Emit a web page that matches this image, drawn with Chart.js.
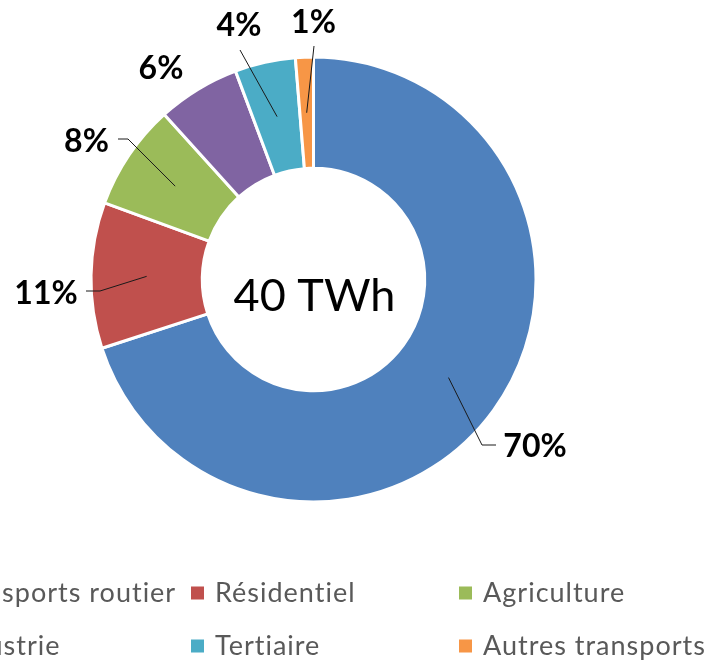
<!DOCTYPE html>
<html>
<head>
<meta charset="utf-8">
<script src="https://cdn.jsdelivr.net/npm/chart.js@4"></script>
<style>
  html, body { margin: 0; padding: 0; background: #fff; }
  #wrap { position: relative; width: 708px; height: 662px; }
</style>
</head>
<body>
<div id="wrap"><canvas id="chart"></canvas></div>
<script>
// data (share of 40 TWh, in %)
const categories = ['Transports routier', 'Résidentiel', 'Agriculture', 'Industrie', 'Tertiaire', 'Autres transports'];
const shares = [70, 10.6, 7.7, 6, 4.4, 1.3];
const colors = ['#4F81BD', '#C0504D', '#9BBB59', '#8064A2', '#4BACC6', '#F79646'];
const centerLabel = '40 TWh';

// label layout, relative to the doughnut centre: text anchor + leader bend/end points
const labelPos = [[221.5, 177.5], [-267.5, 24.5], [-227, -127.5], [-152.5, -200.5], [-74.5, -243.5], [0, -246.5]];
const leaders = [
  [[168.5, 165.5], [182.5, 165.5]],
  [[-213.5, 11.5], [-227.5, 11.5]],
  [[-185.5, -140.5], [-195.5, -140.5]],
  null,
  [[-73.5, -229.5]],
  [[0.5, -233.5]]
];

const labelsPlugin = {
  id: 'labels',
  afterDraw(chart) {
    const ctx = chart.ctx;
    const meta = chart.getDatasetMeta(0);
    const cx = meta.data[0].x;
    const cy = meta.data[0].y;
    ctx.save();

    // leader lines from slice centroids
    ctx.strokeStyle = '#1a1a1a';
    ctx.lineWidth = 1;
    meta.data.forEach((arc, i) => {
      if (!leaders[i]) return;
      const p = arc.getCenterPoint();
      ctx.beginPath();
      ctx.moveTo(p.x, p.y);
      leaders[i].forEach(pt => ctx.lineTo(cx + pt[0], cy + pt[1]));
      ctx.stroke();
    });

    // percentages
    ctx.fillStyle = '#000';
    ctx.font = 'bold 32px Lato';
    ctx.textAlign = 'center';
    ctx.textBaseline = 'alphabetic';
    const total = shares.reduce((a, b) => a + b, 0);
    shares.forEach((v, i) => {
      const txt = Math.round(v / total * 100) + '%';
      ctx.fillText(txt, cx + labelPos[i][0], cy + labelPos[i][1]);
    });

    // centre text
    ctx.font = '45px Lato';
    ctx.fillText(centerLabel, cx + 1, cy + 31.5);

    // legend, 3 columns (left column runs off the edge as in the source)
    ctx.font = '27px Lato';
    ctx.textAlign = 'left';
    ctx.textRendering = 'optimizeSpeed';
    ctx.letterSpacing = '1px';
    categories.forEach((name, i) => {
      const col = i % 3;
      const row = Math.floor(i / 3);
      const x = -77 + col * 268;
      const y = 593 + row * 53;
      ctx.fillStyle = colors[i];
      ctx.fillRect(x, y - 6.5, 13, 13);
      ctx.fillStyle = '#595959';
      ctx.fillText(name, x + 24, y + 9);
    });
    ctx.restore();
  }
};

const data = {
  labels: categories,
  datasets: [{
    data: shares,
    backgroundColor: colors,
    borderColor: '#ffffff',
    borderWidth: 3
  }]
};

const config = {
  type: 'doughnut',
  data: data,
  options: {
    responsive: true,
    maintainAspectRatio: false,
    animation: false,
    cutout: '50%',
    layout: { padding: { left: 89.5, top: 55.5, right: 170.5, bottom: 158.5 } },
    plugins: {
      legend: { display: false },
      tooltip: { enabled: false }
    }
  },
  plugins: [labelsPlugin]
};

const chart = new Chart(document.getElementById('chart'), config);
</script>
</body>
</html>
